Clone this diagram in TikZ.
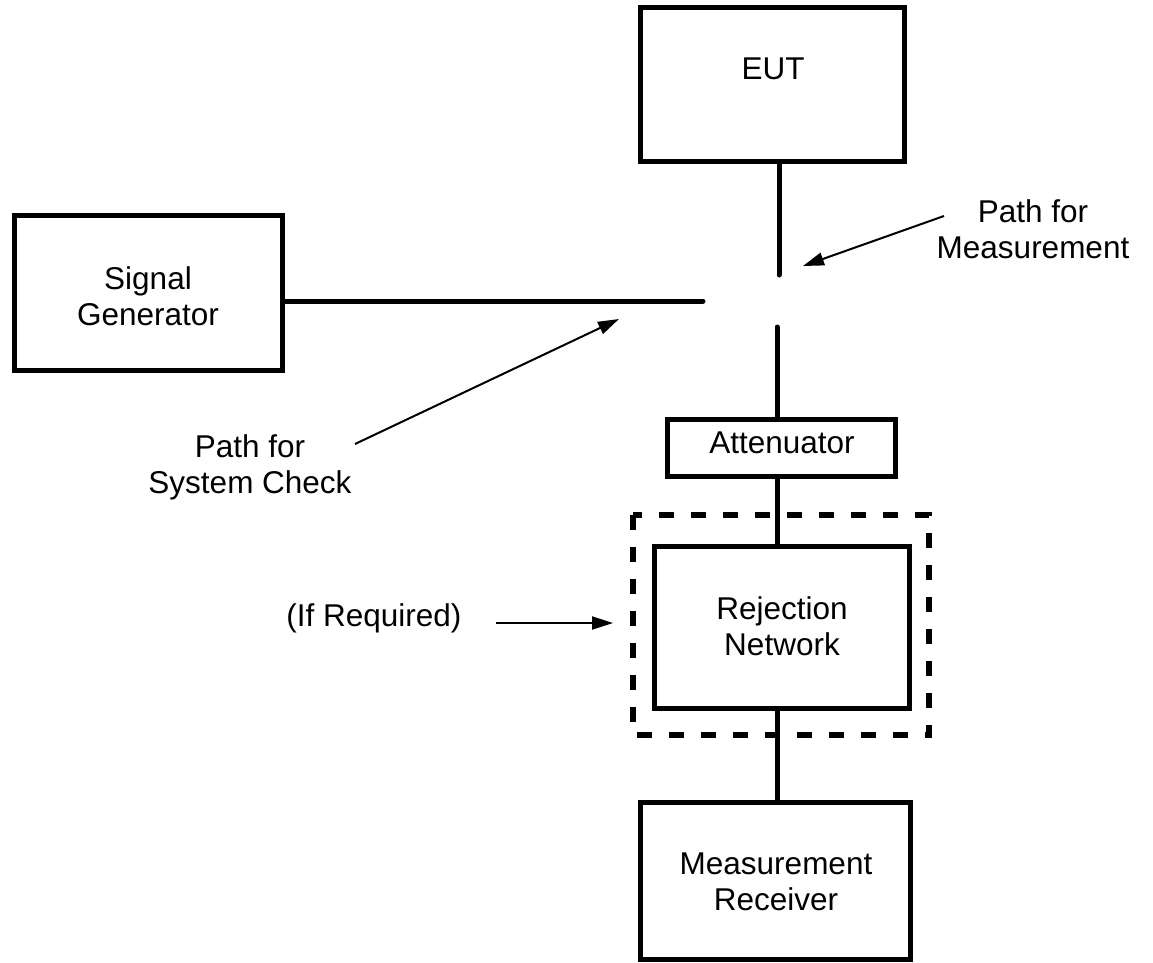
\documentclass[tikz,border=0pt]{standalone}
\usepackage{fontspec}
\setmainfont{Liberation Sans}
\usetikzlibrary{arrows.meta}
\begin{document}
\begin{tikzpicture}[x=1pt,y=-1pt,
  blk/.style={draw,line width=5pt,inner sep=0pt,minimum width=#1},
  lbl/.style={inner sep=0pt,align=center,font=\fontsize{31.5}{36}\selectfont},
  wire/.style={line width=5pt,line cap=round},
  pointer/.style={line width=2pt,-{Triangle[length=21pt,width=13pt]}},
  optbox/.style={line width=6pt,dash pattern=on 15pt off 17pt}]
\useasboundingbox (0,0) rectangle (1153,962);
% boxes
\node[blk=264pt,minimum height=154pt] (eut) at (772.5,84.5) {};
\node[blk=268pt,minimum height=155pt] (sg) at (148.5,293) {};
\node[blk=228pt,minimum height=57pt] (att) at (781.5,448) {};
\node[blk=255pt,minimum height=162pt] (rej) at (782,627.5) {};
\node[blk=270pt,minimum height=157pt] (rcv) at (775.5,881) {};
\draw[optbox] (633,514.5) rectangle (929,735);
% texts
\node[lbl] (teut) at (773,69) {EUT};
\node[lbl] (tsg) at (148,296.5) {Signal\\Generator};
\node[lbl] (tatt) at (782,442.5) {Attenuator};
\node[lbl] (trej) at (782,626.5) {Rejection\\Network};
\node[lbl] (trcv) at (776,881.5) {Measurement\\Receiver};
\node[lbl] (tpm) at (1033,229) {Path for\\Measurement};
\node[lbl] (tsc) at (250,467.5) {Path for\\System Check};
\node[lbl] (tif) at (374,618) {(If Required)};
% connection points
\coordinate (gaptop) at (779,275);
\coordinate (gapbot) at (777,327);
\coordinate (hend) at (703,301);
\coordinate (pmstart) at (944,216);
\coordinate (pmtip) at (803,266);
\coordinate (scstart) at (355,444);
\coordinate (sctip) at (619,319);
\coordinate (ifstart) at (496,623);
\coordinate (iftip) at (613,623);
% wires
\draw[wire] (eut.south -| gaptop) -- (gaptop);
\draw[wire] (sg.east |- hend) -- (hend);
\draw[wire] (gapbot) -- (gapbot |- att.north);
\draw[line width=5pt] (att.south -| gapbot) -- (rej.north -| gapbot);
\draw[line width=5pt] (rej.south -| gapbot) -- (rcv.north -| gapbot);
% pointers
\draw[pointer] (pmstart) -- (pmtip);
\draw[pointer] (scstart) -- (sctip);
\draw[pointer] (ifstart) -- (iftip);
\end{tikzpicture}
\end{document}
